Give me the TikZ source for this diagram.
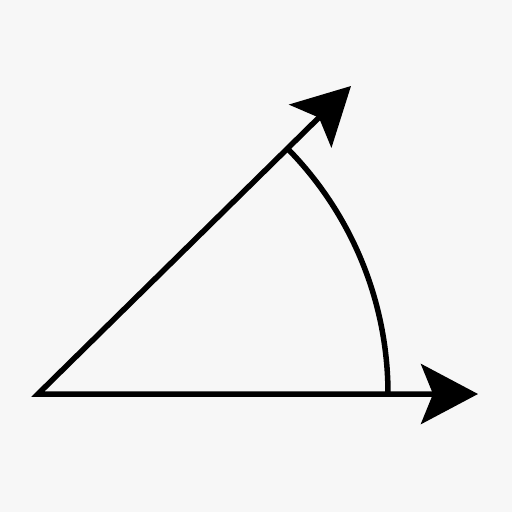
\documentclass[tikz,border=0pt]{standalone}
\usepackage{tikz}
\usetikzlibrary{arrows.meta,calc}
\definecolor{bg}{HTML}{F7F7F7}
\tikzset{>={Stealth[length=57pt,width=60pt,inset=12pt]}}

\begin{document}
\begin{tikzpicture}[x=1pt, y=-1pt, line width=5.5pt, line join=miter]
        \fill[bg] (0,0) rectangle (512,512);
        \useasboundingbox (0,0) rectangle (512,512);
        \coordinate (O) at (38,394);  %vertex
        \coordinate (H) at (478,394);
        \coordinate (D) at (351,86);
        
        \draw[<->] (H) -- (O) -- (D);
        \draw ($(O)+(350,0)$) arc[start angle=0, end angle=-44.6, radius=350];
      \end{tikzpicture}
\end{document}
